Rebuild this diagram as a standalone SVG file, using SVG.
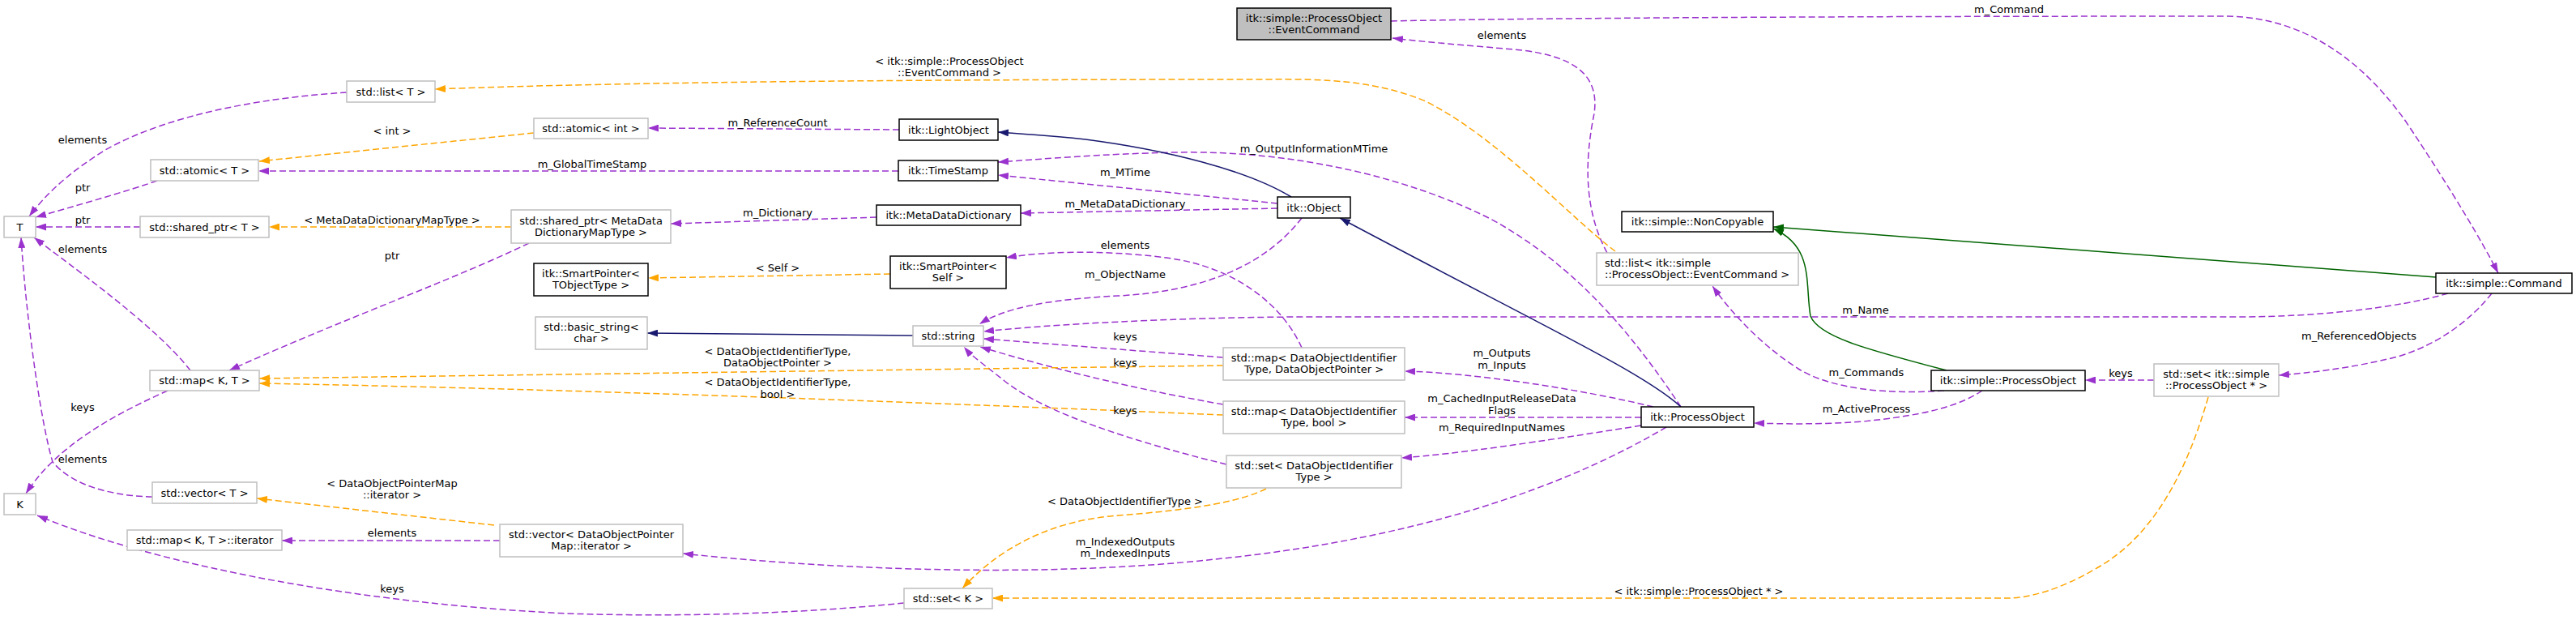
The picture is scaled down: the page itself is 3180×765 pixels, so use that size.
<svg xmlns="http://www.w3.org/2000/svg" width="3180" height="765" viewBox="0 0 3180 765">
<defs>
<style>
text{font-family:"DejaVu Sans","Liberation Sans",sans-serif;font-size:13px;fill:#000}
.nd rect{fill:#fff;stroke:#bfbfbf;stroke-width:1.5}
.nd.doc rect{stroke:#000}
.nd.focus rect{fill:#bfbfbf;stroke:#000}
.nd text{text-anchor:middle}
.nd.left text{text-anchor:start}
#edges path{fill:none;stroke-width:1.5}
.p{stroke:#9a32cd;stroke-dasharray:8,4;marker-end:url(#ap)}
.o{stroke:#ffa500;stroke-dasharray:8,4;marker-end:url(#ao)}
.nv{stroke:#191970;marker-end:url(#an)}
.g{stroke:#006400;marker-end:url(#ag)}
#labels text{text-anchor:middle}
</style>
<marker id="ap" viewBox="0 0 13 9" refX="13" refY="4.5" markerWidth="13" markerHeight="9" markerUnits="userSpaceOnUse" orient="auto"><path d="M0,0L13,4.5L0,9z" fill="#9a32cd"/></marker>
<marker id="ao" viewBox="0 0 13 9" refX="13" refY="4.5" markerWidth="13" markerHeight="9" markerUnits="userSpaceOnUse" orient="auto"><path d="M0,0L13,4.5L0,9z" fill="#ffa500"/></marker>
<marker id="an" viewBox="0 0 13 9" refX="13" refY="4.5" markerWidth="13" markerHeight="9" markerUnits="userSpaceOnUse" orient="auto"><path d="M0,0L13,4.5L0,9z" fill="#191970"/></marker>
<marker id="ag" viewBox="0 0 13 9" refX="13" refY="4.5" markerWidth="13" markerHeight="9" markerUnits="userSpaceOnUse" orient="auto"><path d="M0,0L13,4.5L0,9z" fill="#006400"/></marker>
</defs>
<rect width="3180" height="765" fill="#fff"/>
<g id="edges">
<path class="p" d="M428,114 C330,120 210,140 130,185 C90,210 60,235 36,267"/>
<path class="p" d="M194,223 C160,235 90,255 44,268"/>
<path class="p" d="M173,280 L44,280"/>
<path class="p" d="M235,457 C190,400 90,330 42,293"/>
<path class="p" d="M188,613 C140,612 90,600 65,570 C50,520 32,390 26,293"/>
<path class="p" d="M1109,211 L319,211"/>
<path class="p" d="M1110,160 L800,158"/>
<path class="p" d="M1082,268 L828,276"/>
<path class="p" d="M653,300 C560,345 420,395 283,457"/>
<path class="p" d="M207,482 C140,512 70,550 32,609"/>
<path class="p" d="M1116,744 C1000,756 850,762 700,757 C450,745 200,700 46,636"/>
<path class="p" d="M617,667 L348,667"/>
<path class="p" d="M1577,251 L1232,216"/>
<path class="p" d="M2075,502 C2020,420 1950,330 1840,270 C1740,220 1600,185 1450,188 C1360,190 1290,196 1232,200"/>
<path class="p" d="M1577,257 L1260,263"/>
<path class="p" d="M1607,429 C1585,380 1530,330 1440,318 C1360,308 1290,310 1242,318"/>
<path class="p" d="M1607,269 C1560,330 1480,360 1380,365 C1290,370 1240,380 1209,400"/>
<path class="p" d="M3022,362 C2960,380 2860,391 2760,391 L1600,391 C1450,392 1300,400 1214,409"/>
<path class="p" d="M1510,441 L1214,418"/>
<path class="p" d="M1510,499 C1400,480 1300,455 1210,428"/>
<path class="p" d="M1514,573 C1400,545 1290,510 1240,470 C1215,450 1200,440 1190,428"/>
<path class="p" d="M2041,502 C1950,480 1820,460 1734,458"/>
<path class="p" d="M2026,515 L1734,515"/>
<path class="p" d="M2026,525 C1900,545 1800,560 1730,565"/>
<path class="p" d="M2057,527 C1900,620 1700,670 1500,690 C1300,712 1050,705 843,683"/>
<path class="p" d="M2400,482 C2330,487 2260,480 2220,455 C2180,430 2140,390 2114,353"/>
<path class="p" d="M2447,482 C2420,500 2380,512 2300,520 C2250,524 2200,523 2165,522"/>
<path class="p" d="M1717,26 C1900,22 2300,20 2750,20 C2850,22 2920,80 2970,150 C3030,240 3065,300 3084,337"/>
<path class="p" d="M1984,312 C1950,250 1960,180 1968,140 C1975,90 1940,70 1880,62 C1800,55 1760,52 1719,47"/>
<path class="p" d="M2659,469 L2574,469"/>
<path class="p" d="M3076,362 C3050,395 3010,425 2960,440 C2900,455 2850,460 2813,463"/>
<path class="nv" d="M1594,243 C1540,210 1440,185 1340,172 C1300,168 1260,165 1232,163"/>
<path class="nv" d="M2075,502 C2030,460 1900,400 1654,269"/>
<path class="nv" d="M1127,414 L799,411"/>
<path class="g" d="M2403,457 C2300,430 2245,415 2235,390 C2228,350 2240,305 2189,282"/>
<path class="g" d="M3007,342 L2189,280"/>
<path class="o" d="M1994,310 C1940,270 1850,170 1760,125 C1700,100 1640,97 1560,98 C1200,98 800,100 537,110"/>
<path class="o" d="M659,164 L320,199"/>
<path class="o" d="M631,280 L332,280"/>
<path class="o" d="M1099,338 L800,343"/>
<path class="o" d="M1510,451 L320,467"/>
<path class="o" d="M1510,512 C1100,495 700,480 320,473"/>
<path class="o" d="M1563,603 C1520,625 1430,632 1370,637 C1290,645 1230,680 1188,726"/>
<path class="o" d="M610,648 L317,615"/>
<path class="o" d="M2726,490 C2700,580 2660,660 2590,700 C2540,730 2500,738 2480,738 L1225,738"/>
</g>
<g id="labels">
<text x="102" y="177">elements</text>
<text x="102" y="236">ptr</text>
<text x="102" y="276">ptr</text>
<text x="102" y="312">elements</text>
<text x="102" y="571">elements</text>
<text x="731" y="207">m_GlobalTimeStamp</text>
<text x="960" y="156">m_ReferenceCount</text>
<text x="960" y="267">m_Dictionary</text>
<text x="484" y="320">ptr</text>
<text x="102" y="507">keys</text>
<text x="484" y="731">keys</text>
<text x="484" y="662">elements</text>
<text x="1389" y="217">m_MTime</text>
<text x="1622" y="188">m_OutputInformationMTime</text>
<text x="1389" y="256">m_MetaDataDictionary</text>
<text x="1389" y="307">elements</text>
<text x="1389" y="343">m_ObjectName</text>
<text x="2303" y="387">m_Name</text>
<text x="1389" y="420">keys</text>
<text x="1389" y="452">keys</text>
<text x="1389" y="511">keys</text>
<text x="1854" y="440">m_Outputs</text>
<text x="1854" y="455">m_Inputs</text>
<text x="1854" y="496">m_CachedInputReleaseData</text>
<text x="1854" y="511">Flags</text>
<text x="1854" y="532">m_RequiredInputNames</text>
<text x="1389" y="673">m_IndexedOutputs</text>
<text x="1389" y="687">m_IndexedInputs</text>
<text x="2304" y="464">m_Commands</text>
<text x="2304" y="509">m_ActiveProcess</text>
<text x="2480" y="16">m_Command</text>
<text x="1854" y="48">elements</text>
<text x="2618" y="465">keys</text>
<text x="2912" y="419">m_ReferencedObjects</text>
<text x="1172" y="80">&lt; itk::simple::ProcessObject</text>
<text x="1172" y="94">::EventCommand &gt;</text>
<text x="484" y="166">&lt; int &gt;</text>
<text x="484" y="276">&lt; MetaDataDictionaryMapType &gt;</text>
<text x="960" y="335">&lt; Self &gt;</text>
<text x="960" y="438">&lt; DataObjectIdentifierType,</text>
<text x="960" y="452">DataObjectPointer &gt;</text>
<text x="960" y="476">&lt; DataObjectIdentifierType,</text>
<text x="960" y="491">bool &gt;</text>
<text x="1389" y="623">&lt; DataObjectIdentifierType &gt;</text>
<text x="484" y="601">&lt; DataObjectPointerMap</text>
<text x="484" y="615">::iterator &gt;</text>
<text x="2097" y="734">&lt; itk::simple::ProcessObject * &gt;</text>
</g>
<g id="n_eventcommand" class="nd focus"><rect x="1527" y="10" width="190" height="39"/><text x="1622" y="26.5">itk::simple::ProcessObject</text><text x="1622" y="40.5">::EventCommand</text></g>
<g id="n_list_t" class="nd"><rect x="428" y="100" width="109" height="26"/><text x="482.5" y="117.5">std::list&lt; T &gt;</text></g>
<g id="n_atomic_int" class="nd"><rect x="659" y="146" width="141" height="25"/><text x="729.5" y="163">std::atomic&lt; int &gt;</text></g>
<g id="n_atomic_t" class="nd"><rect x="186" y="197" width="133" height="26"/><text x="252.5" y="214.5">std::atomic&lt; T &gt;</text></g>
<g id="n_t" class="nd"><rect x="5" y="267" width="39" height="26"/><text x="24.5" y="284.5">T</text></g>
<g id="n_shared_t" class="nd"><rect x="173" y="267" width="159" height="26"/><text x="252.5" y="284.5">std::shared_ptr&lt; T &gt;</text></g>
<g id="n_shared_meta" class="nd"><rect x="631" y="259" width="197" height="41"/><text x="729.5" y="276.5">std::shared_ptr&lt; MetaData</text><text x="729.5" y="290.5">DictionaryMapType &gt;</text></g>
<g id="n_sp_tobj" class="nd doc"><rect x="659" y="325" width="141" height="40"/><text x="729.5" y="342">itk::SmartPointer&lt;</text><text x="729.5" y="356">TObjectType &gt;</text></g>
<g id="n_basic_string" class="nd"><rect x="661" y="391" width="138" height="40"/><text x="730" y="408">std::basic_string&lt;</text><text x="730" y="422">char &gt;</text></g>
<g id="n_map_kt" class="nd"><rect x="185" y="457" width="135" height="25"/><text x="252.5" y="474">std::map&lt; K, T &gt;</text></g>
<g id="n_k" class="nd"><rect x="5" y="609" width="39" height="26"/><text x="24.5" y="626.5">K</text></g>
<g id="n_vector_t" class="nd"><rect x="188" y="595" width="129" height="26"/><text x="252.5" y="612.5">std::vector&lt; T &gt;</text></g>
<g id="n_map_iter" class="nd"><rect x="157" y="654" width="191" height="25"/><text x="252.5" y="671">std::map&lt; K, T &gt;::iterator</text></g>
<g id="n_vector_dopm" class="nd"><rect x="617" y="647" width="226" height="40"/><text x="730" y="664">std::vector&lt; DataObjectPointer</text><text x="730" y="678">Map::iterator &gt;</text></g>
<g id="n_lightobject" class="nd doc"><rect x="1110" y="147" width="122" height="26"/><text x="1171" y="164.5">itk::LightObject</text></g>
<g id="n_timestamp" class="nd doc"><rect x="1109" y="198" width="123" height="25"/><text x="1170.5" y="215">itk::TimeStamp</text></g>
<g id="n_mdd" class="nd doc"><rect x="1082" y="253" width="178" height="25"/><text x="1171" y="270">itk::MetaDataDictionary</text></g>
<g id="n_sp_self" class="nd doc"><rect x="1099" y="316" width="143" height="40"/><text x="1170.5" y="333">itk::SmartPointer&lt;</text><text x="1170.5" y="347">Self &gt;</text></g>
<g id="n_string" class="nd"><rect x="1127" y="402" width="87" height="25"/><text x="1170.5" y="419">std::string</text></g>
<g id="n_map_dop" class="nd"><rect x="1510" y="429" width="224" height="40"/><text x="1622" y="446">std::map&lt; DataObjectIdentifier</text><text x="1622" y="460">Type, DataObjectPointer &gt;</text></g>
<g id="n_map_bool" class="nd"><rect x="1510" y="495" width="224" height="40"/><text x="1622" y="512">std::map&lt; DataObjectIdentifier</text><text x="1622" y="526">Type, bool &gt;</text></g>
<g id="n_set_doi" class="nd"><rect x="1514" y="562" width="216" height="40"/><text x="1622" y="579">std::set&lt; DataObjectIdentifier</text><text x="1622" y="593">Type &gt;</text></g>
<g id="n_set_k" class="nd"><rect x="1116" y="726" width="109" height="25"/><text x="1170.5" y="743">std::set&lt; K &gt;</text></g>
<g id="n_object" class="nd doc"><rect x="1577" y="243" width="90" height="26"/><text x="1622" y="260.5">itk::Object</text></g>
<g id="n_noncopyable" class="nd doc"><rect x="2002" y="261" width="187" height="25"/><text x="2095.5" y="278">itk::simple::NonCopyable</text></g>
<g id="n_list_ec" class="nd left"><rect x="1971" y="312" width="249" height="40"/><text x="1981" y="329">std::list&lt; itk::simple</text><text x="1981" y="343">::ProcessObject::EventCommand &gt;</text></g>
<g id="n_itk_po" class="nd doc"><rect x="2026" y="502" width="139" height="25"/><text x="2095.5" y="519">itk::ProcessObject</text></g>
<g id="n_simple_po" class="nd doc"><rect x="2384" y="457" width="190" height="25"/><text x="2479" y="474">itk::simple::ProcessObject</text></g>
<g id="n_set_po" class="nd"><rect x="2659" y="449" width="154" height="40"/><text x="2736" y="466">std::set&lt; itk::simple</text><text x="2736" y="480">::ProcessObject * &gt;</text></g>
<g id="n_command" class="nd doc"><rect x="3007" y="337" width="168" height="25"/><text x="3091" y="354">itk::simple::Command</text></g>
</svg>
